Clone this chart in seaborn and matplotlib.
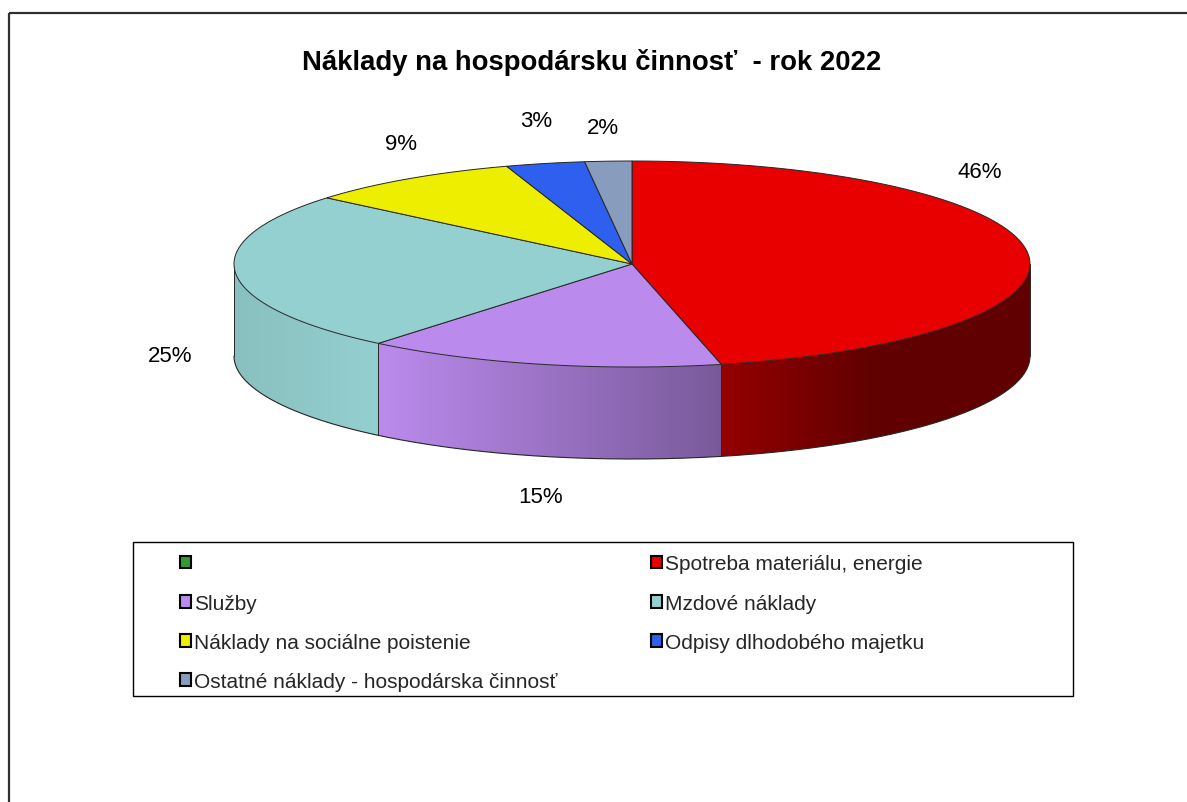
import numpy as np
import matplotlib
matplotlib.use("Agg")
import matplotlib.pyplot as plt
from matplotlib.patches import Rectangle, Patch, Polygon
import seaborn as sns

# ---------------- data ----------------
title = "Náklady na hospodársku činnosť  - rok 2022"
categories = ["", "Spotreba materiálu, energie", "Služby", "Mzdové náklady",
              "Náklady na sociálne poistenie", "Odpisy dlhodobého majetku",
              "Ostatné náklady - hospodárska činnosť"]
shares = [0.0, 46.4, 14.6, 25.1, 8.8, 3.2, 1.9]
colors = ["#339933", "#E80000", "#BA8AEC", "#95D0D0", "#EEEE00", "#2E5FEE", "#889DBE"]

# ---------------- layout / style ----------------
sns.set_theme(style="white")
plt.rcParams["font.family"] = ["Liberation Sans", "DejaVu Sans"]

W, H = 1187, 803
fig = plt.figure(figsize=(W / 100, H / 100), dpi=100)
ax = fig.add_axes([0, 0, 1, 1])
ax.axis("off")

cx, cy, rx, ry, depth = 632, 265, 398, 103, 92
edge_col = "#262626"
palette = sns.color_palette(colors)

# per-label nudges (layout only)
label_push = 40
label_nudge = {1: (-87, -76), 2: (9, 1), 3: (-26, -14), 4: (15, -2), 5: (0, -4), 6: (-3, 6)}


def ell(theta):
    """point on the top ellipse; theta clockwise from 12 o'clock"""
    return cx + rx * np.sin(theta), cy - ry * np.cos(theta)


def shade(u):
    return np.interp(u, [-1, -0.62, 0.16, 0.6, 1], [0.92, 1.0, 0.68, 0.42, 0.42])


vals = np.array(shares, dtype=float)
frac = vals / vals.sum()
edges = np.concatenate([[0], np.cumsum(frac)]) * 2 * np.pi

# ---------------- side walls (gradient clipped to wall polygon) ----------------
gx = np.linspace(cx - rx, cx + rx, 900)
gu = (gx - cx) / rx
for i, (a, b) in enumerate(zip(edges[:-1], edges[1:])):
    if b - a <= 0:
        continue
    lo, hi = max(a, np.pi / 2), min(b, 3 * np.pi / 2)
    if hi <= lo:
        continue
    tt = np.linspace(lo, hi, 300)
    x, y = ell(tt)
    xs = np.concatenate([x, x[::-1]])
    ys = np.concatenate([y, y[::-1] + depth])
    poly = Polygon(np.column_stack([xs, ys]), closed=True, fc="none", ec="none")
    ax.add_patch(poly)
    base = np.array(palette[i])
    img = np.clip(base[None, None, :] * shade(gu)[None, :, None], 0, 1)
    im = ax.imshow(img, extent=(cx - rx, cx + rx, cy + ry + depth + 3, cy - 3),
                   aspect="auto", interpolation="bilinear", zorder=1)
    im.set_clip_path(poly)

# side outlines
vis = [e for e in edges if np.pi / 2 < e < 3 * np.pi / 2] + [np.pi / 2, 3 * np.pi / 2]
for t in vis:
    x, y = ell(t)
    ax.plot([x, x], [y, y + depth], color=edge_col, lw=0.7, zorder=2)
tt = np.linspace(np.pi / 2, 3 * np.pi / 2, 400)
x, y = ell(tt)
ax.plot(x, y + depth, color=edge_col, lw=0.8, zorder=2)

# ---------------- top faces ----------------
for i, (a, b) in enumerate(zip(edges[:-1], edges[1:])):
    if b - a <= 0:
        continue
    tt = np.linspace(a, b, max(int((b - a) / 0.005), 2))
    x, y = ell(tt)
    xs = np.concatenate([[cx], x])
    ys = np.concatenate([[cy], y])
    ax.fill(xs, ys, color=palette[i], ec=edge_col, lw=0.7, zorder=3)

# ---------------- percentage labels ----------------
for i, (a, b) in enumerate(zip(edges[:-1], edges[1:])):
    if b - a <= 0:
        continue
    m = (a + b) / 2
    x, y = ell(m)
    if np.pi / 2 < m < 3 * np.pi / 2:
        y = y + depth
    dx, dy = label_nudge.get(i, (0, 0))
    lx = x + label_push * np.sin(m) + dx
    ly = y - label_push * np.cos(m) + dy
    ax.text(lx, ly, f"{shares[i]:.0f}%", ha="center", va="center",
            fontsize=16, color="black", zorder=5)

# ---------------- title ----------------
ax.text(592, 62, title, ha="center", va="center", fontsize=19.8,
        fontweight="bold", color="black")

# ---------------- legend ----------------
handles = [Patch(facecolor=palette[i], edgecolor="black", linewidth=1.5,
                 label=categories[i]) for i in range(len(categories))]
col1, col2 = handles[0::2], handles[1::2]
kw = dict(loc="upper left", frameon=False, fontsize=15, handlelength=0.55,
          handleheight=0.55, handletextpad=0.12, labelspacing=0.97,
          borderpad=0, borderaxespad=0, bbox_transform=ax.transData)

ax.set_xlim(0, W)
ax.set_ylim(H, 0)

leg1 = ax.legend(handles=col1, bbox_to_anchor=(180, 555.5), **kw)
ax.add_artist(leg1)
leg2 = ax.legend(handles=col2, bbox_to_anchor=(651, 555.5), **kw)

ax.add_patch(Rectangle((133, 543), 940, 154, fill=False, ec="black", lw=1, zorder=4))

# outer chart border (extends beyond the canvas at right/bottom)
ax.add_patch(Rectangle((9, 14), W + 20, H + 20, fill=False, ec="#303030", lw=1.6,
                       clip_on=False, zorder=6))

ax.set_xlim(0, W)
ax.set_ylim(H, 0)
fig.savefig("out.png", dpi=100)
